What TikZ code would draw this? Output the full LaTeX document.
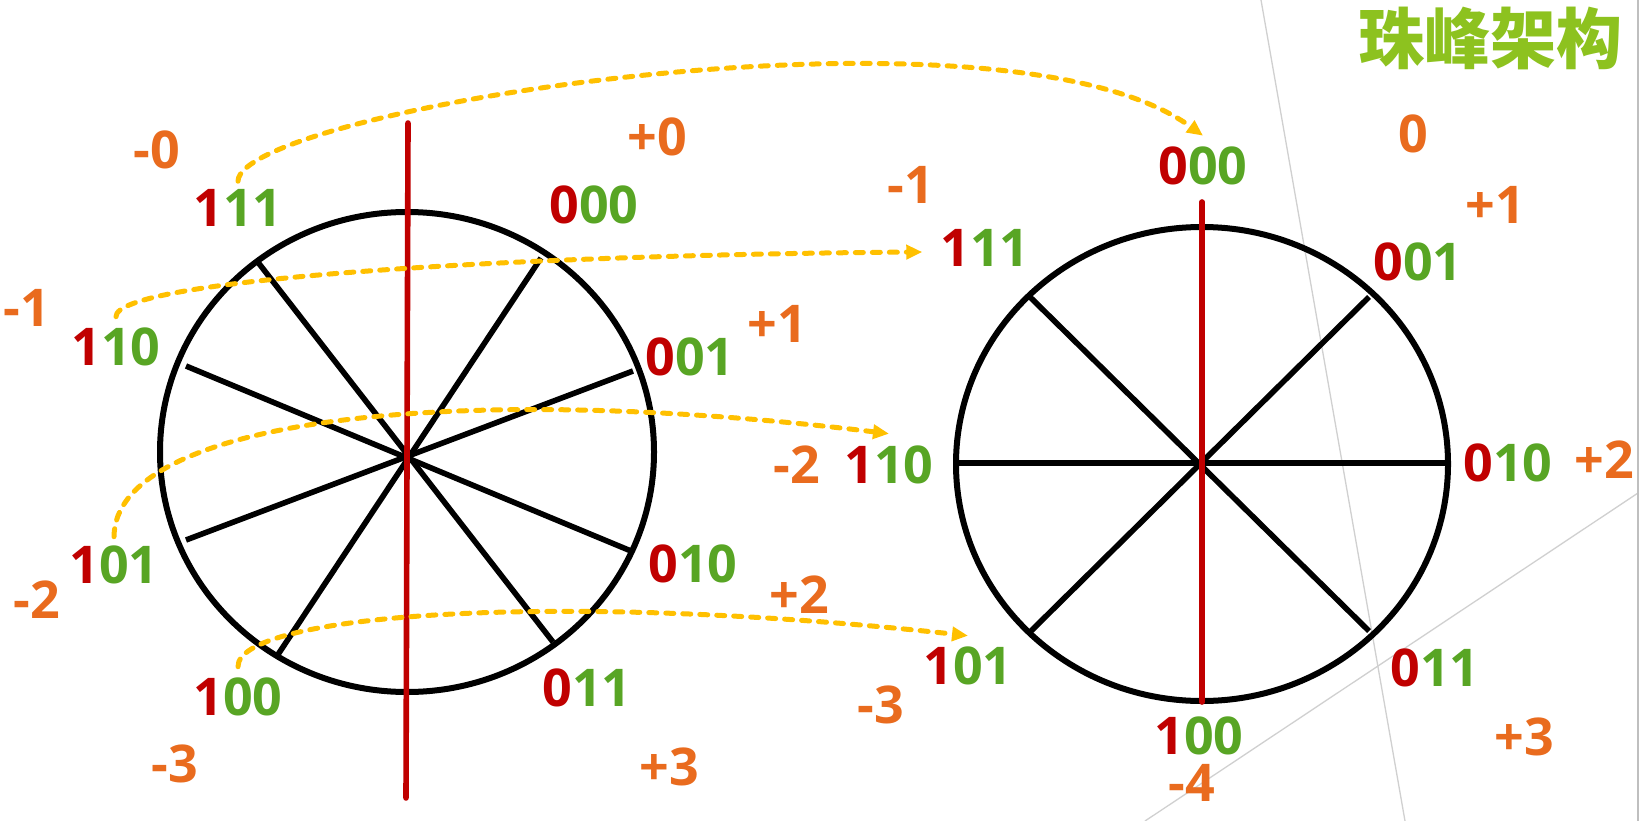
\documentclass[tikz,border=0pt]{standalone}
\usepackage{fontspec}
\setmainfont{Open Sans}
\newfontfamily\cjk{Noto Sans CJK SC}
\usetikzlibrary{arrows.meta}
\definecolor{cred}{HTML}{C00000}
\definecolor{cgreen}{HTML}{58A524}
\definecolor{corange}{HTML}{E96B1E}
\definecolor{cyellow}{HTML}{FFC000}
\definecolor{ctitle}{HTML}{8DC21F}
\definecolor{cgrey}{HTML}{D0D0D0}
\begin{document}
\begin{tikzpicture}[x=1pt,y=-1pt,
  lab/.style={inner sep=0pt, font=\fontsize{52}{52}\selectfont\bfseries},
  num/.style={lab, text=corange},
  rim/.style={line width=6pt, black},
  spoke/.style={line width=5.6pt, black},
  axis/.style={line width=5.6pt, cred, line cap=round},
  link/.style={cyellow, line width=5pt, line cap=round, dash pattern=on 8pt off 9pt, -{Triangle[length=16pt,width=14pt]}},
  guide/.style={cgrey, line width=1.3pt}]
\useasboundingbox (0,0) rectangle (1640,821);
\fill[white] (0,0) rectangle (1640,821);
% faint guide lines
\draw[guide] (1261,0) -- (1405,821);
\draw[guide] (1145,821) -- (1638,493);
\draw[guide, line width=1.5pt, gray!50] (1638,0) -- (1638,821);
% left wheel
\draw[rim] (407,452) ellipse [x radius=247, y radius=240];
\draw[spoke] (257,261) -- (553,642);
\draw[spoke] (541,258) -- (277,656);
\draw[spoke] (633,371) -- (186,540);
\draw[spoke] (186,366) -- (631,551);
\draw[axis] (408,123) -- (406,798);
% right wheel
\draw[rim] (1202,464) ellipse [x radius=246, y radius=237];
\draw[spoke] (957,463) -- (1449,463);
\draw[spoke] (1030,297) -- (1369,631);
\draw[spoke] (1369,297) -- (1030,632);
\draw[axis] (1202,202) -- (1202,702);
% left labels
\node[lab] (l111) at (238,208) {\textcolor{cred}{1}\textcolor{cgreen}{11}};
\node[lab] (l000) at (594,205) {\textcolor{cred}{0}\textcolor{cgreen}{00}};
\node[lab] (l110) at (116,347) {\textcolor{cred}{1}\textcolor{cgreen}{10}};
\node[lab] (l001) at (690,357) {\textcolor{cred}{0}\textcolor{cgreen}{01}};
\node[lab] (l101) at (114,565) {\textcolor{cred}{1}\textcolor{cgreen}{01}};
\node[lab] (l010) at (693,564) {\textcolor{cred}{0}\textcolor{cgreen}{10}};
\node[lab] (l100) at (238,697) {\textcolor{cred}{1}\textcolor{cgreen}{00}};
\node[lab] (l011) at (587,688) {\textcolor{cred}{0}\textcolor{cgreen}{11}};
\node[num] (lm0) at (157,150) {-0};
\node[num] (lp0) at (657,137) {+0};
\node[num] (lm1) at (27,308) {-1};
\node[num] (lp1) at (777,324) {+1};
\node[num] (lm2) at (37,600) {-2};
\node[num] (lp2) at (799,595) {+2};
\node[num] (lm3) at (175,764) {-3};
\node[num] (lp3) at (669,767) {+3};
% middle labels
\node[num] (mm1) at (911,185) {-1};
\node[lab] (m111) at (985,248) {\textcolor{cred}{1}\textcolor{cgreen}{11}};
\node[num] (mm2) at (797,465) {-2};
\node[lab] (m110) at (889,465) {\textcolor{cred}{1}\textcolor{cgreen}{10}};
\node[lab] (m101) at (968,666) {\textcolor{cred}{1}\textcolor{cgreen}{01}};
\node[num] (mm3) at (881,705) {-3};
% right labels
\node[lab] (r000) at (1203,166) {\textcolor{cred}{0}\textcolor{cgreen}{00}};
\node[num] (rz) at (1413,134) {0};
\node[num] (rp1) at (1495,205) {+1};
\node[lab] (r001) at (1418,262) {\textcolor{cred}{0}\textcolor{cgreen}{01}};
\node[lab] (r010) at (1508,463) {\textcolor{cred}{0}\textcolor{cgreen}{10}};
\node[num] (rp2) at (1604,460) {+2};
\node[lab] (r011) at (1435,668) {\textcolor{cred}{0}\textcolor{cgreen}{11}};
\node[num] (rp3) at (1524,737) {+3};
\node[lab] (r100) at (1199,736) {\textcolor{cred}{1}\textcolor{cgreen}{00}};
\node[num] (rm4) at (1192,783) {-4};
% title
\node[inner sep=0pt, text=ctitle, font=\cjk\bfseries\fontsize{66}{66}\selectfont] (title) at (1490,38) {珠峰架构};
% migration arrows
\draw[link] ([yshift=8pt]l111.north) .. controls (239,110) and (1000,-12) .. ([yshift=11pt]r000.north);
\draw[link] ([yshift=11pt]l110.north) .. controls (115,280) and (500,255) .. ([xshift=-18pt,yshift=-4pt]m111.west);
\draw[link] ([yshift=9pt]l101.north) .. controls (115,420) and (450,380) .. ([yshift=12pt]m110.north);
\draw[link] ([yshift=11pt]l100.north) .. controls (237,615) and (550,590) .. ([yshift=11pt]m101.north);
\end{tikzpicture}
\end{document}
